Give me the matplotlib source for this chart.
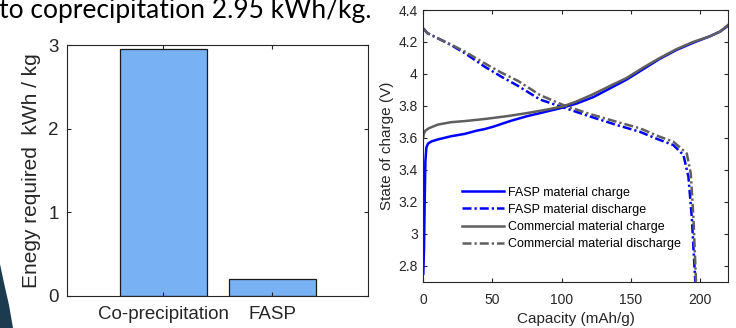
import matplotlib
matplotlib.use("Agg")
import matplotlib.pyplot as plt
from matplotlib.patches import Polygon

# === DATOS ===
methods = ["Co-precipitation", "FASP"]
energy = [2.95, 0.2]

fasp_charge_cap = [0, 0.5, 1.0, 1.5, 2.2, 3.5, 6, 10.5, 20, 30, 38.6, 44.4, 50.6, 62.7, 74.7,
                   86.8, 98.8, 110.9, 122.9, 135, 147, 159, 171, 183, 195, 207, 214.5, 220]
fasp_charge_v = [2.75, 2.9, 3.2, 3.45, 3.54, 3.565, 3.578, 3.59, 3.61, 3.625, 3.645, 3.655, 3.67,
                 3.705, 3.735, 3.76, 3.785, 3.815, 3.855, 3.91, 3.965, 4.03, 4.095, 4.15, 4.195,
                 4.235, 4.265, 4.30]

fasp_dis_cap = [0, 3, 10.5, 20.2, 30, 44.4, 56, 68.5, 84.3, 101.3, 120, 140, 156.5, 170,
                180.7, 188, 191.6, 194, 196.4, 196.6]
fasp_dis_v = [4.285, 4.255, 4.223, 4.18, 4.13, 4.045, 3.985, 3.925, 3.84, 3.79, 3.735, 3.68,
              3.638, 3.59, 3.555, 3.493, 3.357, 3.107, 2.73, 2.70]

com_charge_cap = [0, 0.3, 1.5, 4, 10.5, 20, 30, 44.4, 60, 75, 90, 101, 110, 122, 135, 147,
                  159, 171, 183, 195, 207, 214.5, 220]
com_charge_v = [3.60, 3.625, 3.645, 3.66, 3.683, 3.698, 3.705, 3.718, 3.735, 3.755, 3.778,
                3.797, 3.825, 3.87, 3.925, 3.975, 4.04, 4.1, 4.155, 4.2, 4.235, 4.265, 4.305]

com_dis_cap = [0, 3, 10.5, 20.2, 30, 44.4, 56, 68.5, 84.3, 101.3, 120, 140, 156.5, 170,
               180.7, 190.4, 193.3, 195.2, 197.1]
com_dis_v = [4.285, 4.255, 4.223, 4.183, 4.14, 4.066, 4.01, 3.956, 3.868, 3.805, 3.75, 3.70,
             3.66, 3.61, 3.576, 3.503, 3.378, 3.107, 2.70]

plt.rcParams['font.family'] = ['Liberation Sans', 'DejaVu Sans']
txt_col = (0.15, 0.15, 0.15)

fig = plt.figure(figsize=(7.36, 3.28), dpi=100)

# texto cortado de arriba (viene de la diapositiva)
fig.text(-0.002, 1 - 18 / 328, "to coprecipitation 2.95 kWh/kg.", family=['Lato', 'DejaVu Sans'],
         fontsize=19, va='baseline', ha='left', color='black')

# forma oscura abajo a la izquierda
pts = [(0, 264), (4, 283), (9, 305), (13, 328), (0, 328)]
pts = [(x / 736, 1 - y / 328) for x, y in pts]
fig.patches.append(Polygon(pts, closed=True, transform=fig.transFigure, facecolor='#1c3b4e',
                           edgecolor='none'))


def style_axes(ax, size):
    for s in ax.spines.values():
        s.set_color(txt_col)
        s.set_linewidth(0.8)
    ax.tick_params(direction='in', top=True, right=True, length=3, width=0.8,
                   colors=txt_col, labelsize=size, labelcolor=txt_col)


# === BARRAS ===
ax1 = fig.add_axes([67 / 736, 32 / 328, 301 / 736, 251 / 328])
ax1.bar([1, 2], energy, width=0.8, color='#78b2f5', edgecolor='#1a1a1a', linewidth=0.9)
ax1.set_xlim(0.117, 2.878)
ax1.set_ylim(0, 3)
ax1.set_yticks([0, 1, 2, 3])
ax1.set_xticks([1, 2])
ax1.set_xticklabels(methods)
style_axes(ax1, 13.5)
ax1.tick_params(axis='y', pad=6)
ax1.tick_params(axis='x', pad=7)
ax1.set_ylabel("Enegy required  kWh / kg", fontsize=15, color=txt_col, labelpad=5)

# === CURVAS ===
ax2 = fig.add_axes([423.3 / 736, 46.3 / 328, 304.4 / 736, 271.7 / 328])
lw = 1.8
dd = (3.6, 1.2, 0.9, 1.2)
ax2.plot(fasp_charge_cap, fasp_charge_v, color='#0000ff', lw=lw, label="FASP material charge")
ax2.plot(fasp_dis_cap, fasp_dis_v, color='#0000ff', lw=lw, dashes=dd, label="FASP material discharge")
ax2.plot(com_charge_cap, com_charge_v, color='#5f5f5f', lw=lw, label="Commercial material charge")
ax2.plot(com_dis_cap, com_dis_v, color='#5f5f5f', lw=lw, dashes=dd, label="Commercial material discharge")
ax2.set_xlim(0, 220)
ax2.set_ylim(2.7, 4.4)
ax2.set_xticks([0, 50, 100, 150, 200])
ax2.set_yticks([2.8, 3, 3.2, 3.4, 3.6, 3.8, 4, 4.2, 4.4])
ax2.set_yticklabels(["2.8", "3", "3.2", "3.4", "3.6", "3.8", "4", "4.2", "4.4"])
style_axes(ax2, 10)
ax2.tick_params(axis='y', pad=4)
ax2.tick_params(axis='x', pad=8)
ax2.set_xlabel("Capacity (mAh/g)", fontsize=11, color=txt_col, labelpad=4)
ax2.set_ylabel("State of charge (V)", fontsize=11, color=txt_col, labelpad=3)
ax2.legend(loc='upper left', bbox_to_anchor=(0.126, 0.35), frameon=False, fontsize=9,
           handlelength=3.4, handletextpad=0.3, labelspacing=0.42, borderpad=0, borderaxespad=0)

fig.savefig("out.png", dpi=100)
